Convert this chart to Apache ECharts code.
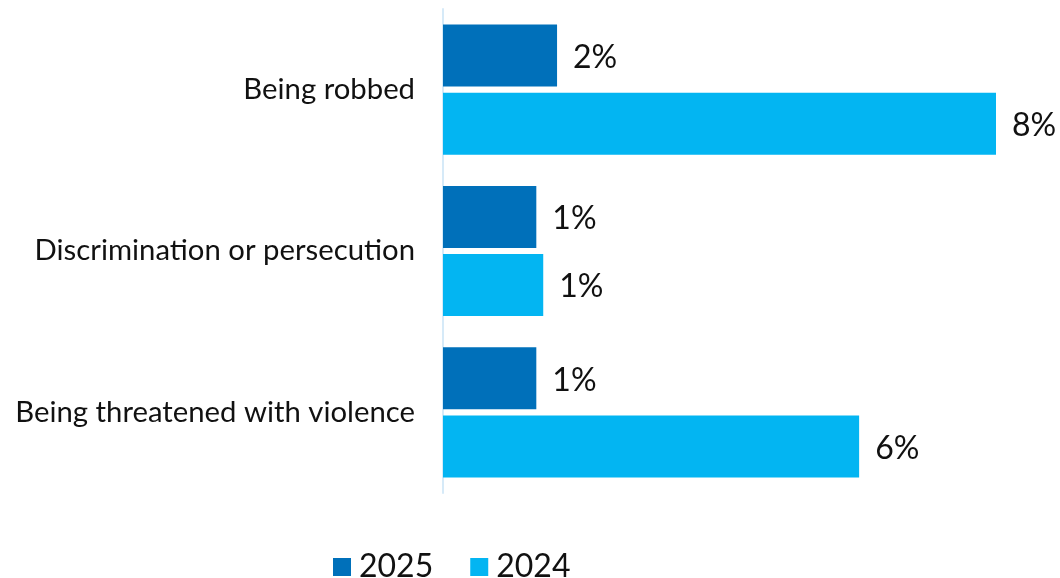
<!DOCTYPE html>
<html>
<head>
<meta charset="utf-8">
<script src="https://cdn.jsdelivr.net/npm/echarts@6/dist/echarts.min.js"></script>
<style>html,body{margin:0;padding:0;background:#fff}#c{width:1060px;height:578px}</style>
</head>
<body>
<div id="c"></div>
<script>
const categories = ['Being robbed', 'Discrimination or persecution', 'Being threatened with violence'];
const seriesNames = ['2025', '2024'];
const values2025 = [1.65, 1.35, 1.35];
const values2024 = [8.0, 1.45, 6.02];
const colors = ['#0070BA', '#03B5F2'];

const chart = echarts.init(document.getElementById('c'));
const labelCfg = {
  show: true, position: 'right', distance: 16, offset: [0, 2],
  fontFamily: 'Lato', fontSize: 32, color: '#111',
  formatter: p => Math.round(p.value) + '%'
};
chart.setOption({
  animation: false,
  textStyle: { fontFamily: 'Lato' },
  grid: { left: 443, right: 64, top: 9, bottom: 85 },
  legend: {
    top: 545, left: 328,
    itemWidth: 18, itemHeight: 18, itemGap: 37,
    icon: 'rect',
    textStyle: { fontFamily: 'Lato', fontSize: 32, lineHeight: 34, color: '#111', padding: [0, 0, 0, 3] },
    data: seriesNames
  },
  xAxis: {
    type: 'value', min: 0, max: 8,
    show: false
  },
  yAxis: {
    type: 'category', data: categories, inverse: true,
    axisLine: { show: true, lineStyle: { color: '#D6EAF8', width: 2 } },
    axisTick: { show: false },
    axisLabel: { fontFamily: 'Lato', fontSize: 29.3, color: '#111', margin: 28 }
  },
  series: [
    { name: seriesNames[0], type: 'bar', data: values2025, barWidth: 62, barGap: '10%',
      itemStyle: { color: colors[0] }, label: labelCfg },
    { name: seriesNames[1], type: 'bar', data: values2024, barWidth: 62, barGap: '10%',
      itemStyle: { color: colors[1] }, label: labelCfg }
  ]
});
</script>
</body>
</html>
